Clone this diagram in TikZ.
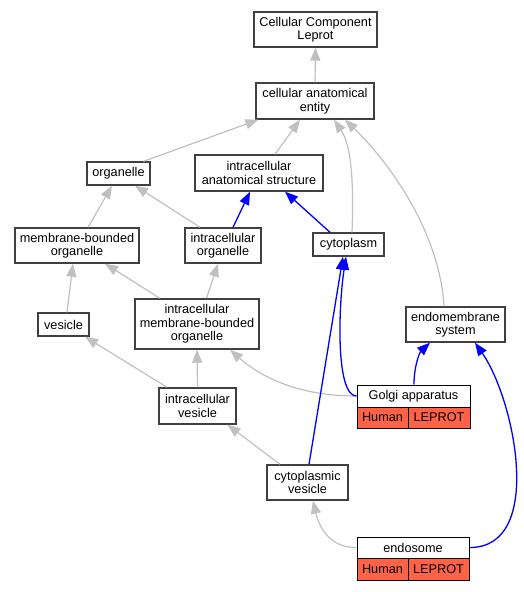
\documentclass[tikz,border=0pt]{standalone}
\usepackage{fontspec}
\setmainfont{Liberation Sans}
\usetikzlibrary{arrows.meta}
\definecolor{edgegray}{HTML}{C0C0C0}
\definecolor{cellred}{HTML}{FF6347}
\definecolor{boxborder}{HTML}{404040}
\tikzset{
  box/.style={draw=boxborder, line width=1.4pt, fill=white, align=center, inner sep=0pt,
    font=\fontsize{12.7}{13.5}\selectfont},
  cell/.style={draw=black, line width=1pt, fill=cellred, inner sep=0pt,
    font=\fontsize{12.7}{13.5}\selectfont},
  head/.style={draw=black, line width=1pt, fill=white, inner sep=0pt,
    font=\fontsize{12.7}{13.5}\selectfont},
  garr/.style={draw=edgegray, line width=1.2pt, -{Triangle[length=13pt,width=10pt]}},
  barr/.style={draw=blue, line width=1.3pt, -{Triangle[length=13pt,width=10pt]}},
}
\begin{document}
\begin{tikzpicture}[x=1pt,y=-1pt]
\useasboundingbox (0,0) rectangle (524,592);
% nodes
\node[box, minimum width=123pt, minimum height=35pt] (ccl) at (315.5,29.5) {Cellular Component\\Leprot};
\node[box, minimum width=118pt, minimum height=36pt] (cae) at (315,101) {cellular anatomical\\entity};
\node[box, minimum width=63pt, minimum height=23pt] (org) at (118.5,173.5) {organelle};
\node[box, minimum width=128pt, minimum height=36pt] (ias) at (259,173) {intracellular\\anatomical structure};
\node[box, minimum width=124pt, minimum height=35pt] (mbo) at (77,245.5) {membrane-bounded\\organelle};
\node[box, minimum width=76pt, minimum height=35pt] (io) at (223,245.5) {intracellular\\organelle};
\node[box, minimum width=71pt, minimum height=23pt] (cyto) at (348.5,244.5) {cytoplasm};
\node[box, minimum width=51pt, minimum height=23pt] (ves) at (63.5,324.5) {vesicle};
\node[box, minimum width=124pt, minimum height=50pt] (imbo) at (197,324) {intracellular\\membrane-bounded\\organelle};
\node[box, minimum width=99pt, minimum height=35pt] (ems) at (455.5,324.5) {endomembrane\\system};
\node[box, minimum width=77pt, minimum height=36pt] (iv) at (197.5,406) {intracellular\\vesicle};
\node[box, minimum width=81pt, minimum height=35pt] (cv) at (307.5,482.5) {cytoplasmic\\vesicle};
% Golgi apparatus
\node[head, minimum width=113pt, minimum height=22pt] (golgi) at (413.5,396) {Golgi apparatus};
\node[cell, minimum width=51pt, minimum height=21pt] (golgih) at (382.5,417.5) {Human};
\node[cell, minimum width=62pt, minimum height=21pt] (golgil) at (439,417.5) {LEPROT};
% endosome
\node[head, minimum width=112pt, minimum height=21pt] (endo) at (413,547.5) {endosome};
\node[cell, minimum width=51pt, minimum height=22pt] (endoh) at (382.5,569) {Human};
\node[cell, minimum width=61pt, minimum height=22pt] (endol) at (438.5,569) {LEPROT};
% gray edges
\draw[garr] (cae.north) -- (ccl.south);
\draw[garr] ([xshift=25pt]org.north) -- ([xshift=3pt]cae.south west);
\draw[garr] ([xshift=16pt]ias.north) -- ([xshift=-15pt]cae.south);
\draw[garr] ([xshift=3.5pt]cyto.north) .. controls (354,180) and (351,145) .. ([xshift=19pt]cae.south);
\draw[garr] ([xshift=-11.5pt]ems.north) .. controls (440,235) and (392,165) .. ([xshift=30pt]cae.south);
\draw[garr] ([xshift=11pt]mbo.north) -- ([xshift=-6.5pt]org.south);
\draw[garr] ([xshift=-23pt]io.north) -- ([xshift=16.5pt]org.south);
\draw[garr] ([xshift=3.5pt]ves.north) -- ([xshift=-4pt]mbo.south);
\draw[garr] ([xshift=-37pt]imbo.north) -- ([xshift=28pt]mbo.south);
\draw[garr] ([xshift=9.5pt]imbo.north) -- ([xshift=-5pt]io.south);
\draw[garr] (golgi.west) .. controls (300,396) and (262,378) .. ([xshift=33pt]imbo.south);
\draw[garr] ([xshift=-30.5pt]iv.north) -- ([xshift=21.5pt]ves.south);
\draw[garr] (iv.north) -- (imbo.south);
\draw[garr] ([xshift=-27.5pt]cv.north) -- ([xshift=30pt]iv.south);
\draw[garr] (endo.west) .. controls (330,548) and (319,527) .. ([xshift=5.5pt]cv.south);
% blue edges
\draw[barr] ([xshift=10pt]io.north) -- ([xshift=-9pt]ias.south);
\draw[barr] ([xshift=-18.5pt]cyto.north) -- ([xshift=26pt]ias.south);
\draw[barr] (golgi.west) .. controls (336,396) and (338,310) .. ([xshift=-2.5pt]cyto.south);
\draw[barr] ([xshift=1.5pt]cv.north) -- ([xshift=-5.5pt]cyto.south);
\draw[barr] ([xshift=0.5pt]golgi.north) .. controls (414,365) and (420,352) .. ([xshift=-25.5pt]ems.south);
\draw[barr] (endo.east) .. controls (545,548) and (515,400) .. ([xshift=19.5pt]ems.south);
\end{tikzpicture}
\end{document}
